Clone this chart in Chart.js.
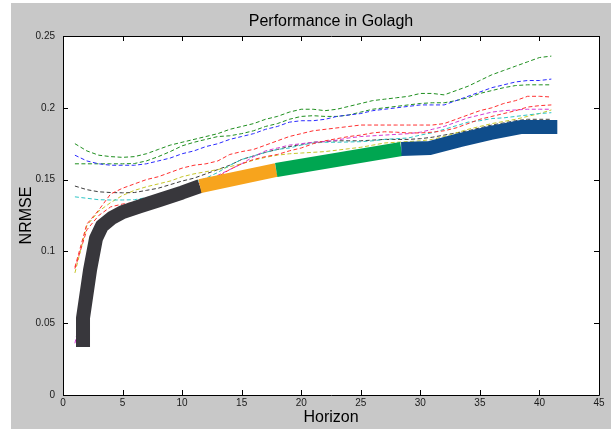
<!DOCTYPE html>
<html>
<head>
<meta charset="utf-8">
<script src="https://cdn.jsdelivr.net/npm/chart.js@4.4.1/dist/chart.umd.min.js"></script>
<style>
    html, body { margin: 0; padding: 0; background: #fff; }
    canvas { display: block; }
</style>
</head>
<body>
<canvas id="perfChart" width="611" height="430"></canvas>
<script>
// Horizon steps for the individual models
const horizons = [1, 2, 3, 4, 5, 6, 7, 8, 9, 10, 11, 12, 13, 14, 15, 16, 17, 18, 19, 20,
    21, 22, 23, 24, 25, 26, 27, 28, 29, 30, 31, 32, 33, 34, 35, 36, 37, 38, 39, 40, 41];

// NRMSE per model (dashed lines)
const greenA = [0.175, 0.170, 0.167, 0.166, 0.1655, 0.166, 0.168, 0.171, 0.174, 0.176, 0.178, 0.180, 0.182, 0.185, 0.187, 0.189, 0.192, 0.194, 0.197, 0.199,
    0.199, 0.198, 0.199, 0.201, 0.203, 0.205, 0.206, 0.207, 0.208, 0.210, 0.210, 0.209, 0.212, 0.215, 0.219, 0.223, 0.226, 0.229, 0.232, 0.235, 0.236];
const blueA = [0.167, 0.163, 0.161, 0.160, 0.160, 0.160, 0.161, 0.163, 0.165, 0.168, 0.170, 0.173, 0.175, 0.178, 0.180, 0.182, 0.185, 0.187, 0.190, 0.191,
    0.191, 0.192, 0.194, 0.195, 0.196, 0.198, 0.199, 0.200, 0.201, 0.202, 0.202, 0.202, 0.205, 0.208, 0.211, 0.214, 0.216, 0.218, 0.219, 0.219, 0.220];
const greenB = [0.161, 0.161, 0.161, 0.161, 0.161, 0.1612, 0.163, 0.166, 0.1695, 0.1735, 0.176, 0.178, 0.180, 0.1805, 0.182, 0.184, 0.187, 0.189, 0.192, 0.194,
    0.1945, 0.194, 0.194, 0.195, 0.197, 0.199, 0.200, 0.201, 0.202, 0.203, 0.2035, 0.2035, 0.205, 0.207, 0.210, 0.212, 0.214, 0.2155, 0.216, 0.216, 0.216];
const redA = [0.089, 0.119, 0.1288, 0.140, 0.144, 0.147, 0.150, 0.152, 0.155, 0.158, 0.160, 0.161, 0.163, 0.1675, 0.1695, 0.171, 0.174, 0.177, 0.180, 0.182,
    0.184, 0.185, 0.186, 0.187, 0.188, 0.188, 0.188, 0.188, 0.188, 0.188, 0.188, 0.189, 0.192, 0.195, 0.198, 0.200, 0.203, 0.205, 0.208, 0.208, 0.2075];
const redB = [0.088, 0.115, 0.125, 0.131, 0.133, 0.134, 0.136, 0.138, 0.140, 0.1425, 0.146, 0.149, 0.152, 0.157, 0.161, 0.164, 0.166, 0.1675, 0.170, 0.172,
    0.175, 0.177, 0.1785, 0.180, 0.181, 0.1825, 0.1833, 0.183, 0.1825, 0.1825, 0.183, 0.184, 0.186, 0.189, 0.192, 0.194, 0.196, 0.198, 0.2005, 0.2015, 0.202];
const magentaA = [0.036, 0.075, 0.115, 0.122, 0.126, 0.130, 0.133, 0.136, 0.139, 0.1425, 0.1455, 0.149, 0.153, 0.157, 0.161, 0.166, 0.170, 0.172, 0.174, 0.175,
    0.176, 0.1765, 0.1775, 0.179, 0.180, 0.1805, 0.181, 0.1815, 0.182, 0.183, 0.185, 0.187, 0.190, 0.193, 0.195, 0.197, 0.198, 0.1985, 0.199, 0.199, 0.199];
const cyanA = [0.138, 0.137, 0.136, 0.1358, 0.1358, 0.136, 0.1375, 0.139, 0.141, 0.1445, 0.148, 0.151, 0.155, 0.160, 0.164, 0.1665, 0.169, 0.171, 0.172, 0.174,
    0.1755, 0.176, 0.176, 0.1762, 0.1764, 0.177, 0.178, 0.1785, 0.179, 0.181, 0.1826, 0.185, 0.1875, 0.190, 0.191, 0.1925, 0.193, 0.194, 0.195, 0.196, 0.1966];
const yellowA = [0.085, 0.118, 0.128, 0.134, 0.139, 0.1425, 0.145, 0.147, 0.149, 0.152, 0.154, 0.1555, 0.157, 0.159, 0.161, 0.1635, 0.1655, 0.167, 0.168, 0.1685,
    0.169, 0.1695, 0.1705, 0.1715, 0.1725, 0.174, 0.1755, 0.176, 0.1765, 0.177, 0.178, 0.180, 0.1825, 0.185, 0.187, 0.189, 0.1905, 0.192, 0.194, 0.196, 0.1985];
const blackA = [0.1455, 0.143, 0.1415, 0.141, 0.1408, 0.141, 0.1425, 0.144, 0.1465, 0.149, 0.151, 0.154, 0.157, 0.160, 0.164, 0.1665, 0.169, 0.171, 0.173, 0.1745,
    0.176, 0.1765, 0.177, 0.177, 0.177, 0.1775, 0.178, 0.178, 0.178, 0.1785, 0.1795, 0.181, 0.1825, 0.184, 0.186, 0.188, 0.1895, 0.191, 0.192, 0.192, 0.192];

// Best-of envelope (thick line)
const bestX = [1.68, 1.68, 2.27, 2.77, 3.27, 4.1, 5, 6.5, 8.1, 10, 11.5, 17.9, 28.4, 30.8, 33.3, 35.9, 38.4, 41.5];
const bestY = [0.0334, 0.0536, 0.087, 0.109, 0.1177, 0.1233, 0.1274, 0.1316, 0.1358, 0.141, 0.1455, 0.1567, 0.1713, 0.172, 0.1775, 0.1825, 0.1866, 0.1866];
const bestBreaks = [11.5, 17.9, 28.4];
const bestColors = ['#38373c', '#f7a41d', '#00a651', '#0f4d8b'];

const xTicks = [0, 5, 10, 15, 20, 25, 30, 35, 40, 45];
const yTicks = [0, 0.05, 0.1, 0.15, 0.2, 0.25];

const FONT = "'Liberation Sans', Arial, Helvetica, sans-serif";

function toPoints(xs, ys) {
    return xs.map((x, i) => ({ x: x, y: ys[i] }));
}

function modelLine(values, color) {
    return {
        data: toPoints(horizons, values),
        borderColor: color,
        borderWidth: 1,
        borderDash: [4, 2.5],
        pointRadius: 0,
        order: 2
    };
}

function bestColor(x) {
    let i = 0;
    while (i < bestBreaks.length && x >= bestBreaks[i]) i++;
    return bestColors[i];
}

// gray figure background, white axes, box with inward ticks
const matlabFrame = {
    id: 'matlabFrame',
    beforeDraw(chart) {
        const { ctx, chartArea: a } = chart;
        ctx.save();
        ctx.fillStyle = '#ffffff';
        ctx.fillRect(0, 0, chart.width, chart.height);
        ctx.fillStyle = '#c8c8c8';
        ctx.fillRect(11, 3, chart.width - 11, chart.height - 4);
        ctx.fillStyle = '#ffffff';
        ctx.fillRect(a.left, a.top, a.right - a.left, a.bottom - a.top);
        ctx.restore();
    },
    afterDatasetsDraw(chart) {
        const { ctx, chartArea: a, scales } = chart;
        ctx.save();
        ctx.strokeStyle = '#000000';
        ctx.lineWidth = 1;
        ctx.beginPath();
        scales.x.ticks.forEach(t => {
            const px = Math.round(scales.x.getPixelForValue(t.value)) + 0.5;
            ctx.moveTo(px, a.bottom);
            ctx.lineTo(px, a.bottom - 5);
            ctx.moveTo(px, a.top);
            ctx.lineTo(px, a.top + 5);
        });
        scales.y.ticks.forEach(t => {
            const py = Math.round(scales.y.getPixelForValue(t.value)) + 0.5;
            ctx.moveTo(a.left, py);
            ctx.lineTo(a.left + 5, py);
            ctx.moveTo(a.right, py);
            ctx.lineTo(a.right - 5, py);
        });
        ctx.rect(Math.round(a.left) + 0.5, Math.round(a.top) + 0.5,
            Math.round(a.right - a.left), Math.round(a.bottom - a.top));
        ctx.stroke();
        ctx.restore();
    }
};

const ctx = document.getElementById('perfChart').getContext('2d');
new Chart(ctx, {
    type: 'line',
    data: {
        datasets: [
            {
                data: toPoints(bestX, bestY),
                borderWidth: 14,
                borderColor: bestColors[0],
                borderJoinStyle: 'round',
                pointRadius: 0,
                segment: {
                    borderColor: c => bestColor(c.p0.parsed.x)
                },
                order: 1
            },
            modelLine(greenA, '#1f8f1f'),
            modelLine(blueA, '#2b2bff'),
            modelLine(greenB, '#1f8f1f'),
            modelLine(redA, '#ff3030'),
            modelLine(redB, '#ff3030'),
            modelLine(magentaA, '#d43cd4'),
            modelLine(cyanA, '#2ec6c6'),
            modelLine(yellowA, '#c6c62a'),
            modelLine(blackA, '#3c3c3c')
        ]
    },
    options: {
        responsive: false,
        animation: false,
        devicePixelRatio: 1,
        layout: {
            padding: { left: 11, top: 3, right: 12, bottom: 0 }
        },
        plugins: {
            legend: { display: false },
            tooltip: { enabled: false },
            title: {
                display: true,
                text: 'Performance in Golagh',
                fullSize: false,
                color: '#000000',
                font: { family: FONT, size: 16, weight: 'normal' },
                padding: { top: 9, bottom: 4.8 }
            }
        },
        scales: {
            x: {
                type: 'linear',
                min: 0,
                max: 45,
                afterBuildTicks: s => { s.ticks = xTicks.map(v => ({ value: v })); },
                afterFit: s => { s.height = 35; },
                grid: { display: false, drawTicks: false },
                border: { display: false },
                ticks: {
                    color: '#1a1a1a',
                    padding: 2,
                    maxRotation: 0,
                    font: { family: FONT, size: 10 },
                    callback: v => String(v)
                },
                title: {
                    display: true,
                    text: 'Horizon',
                    color: '#000000',
                    font: { family: FONT, size: 16 },
                    padding: { top: 0, bottom: 2.4 }
                }
            },
            y: {
                min: 0,
                max: 0.25,
                afterBuildTicks: s => { s.ticks = yTicks.map(v => ({ value: v })); },
                afterFit: s => { s.width = 52; },
                grid: { display: false, drawTicks: false },
                border: { display: false },
                ticks: {
                    color: '#1a1a1a',
                    padding: 8,
                    font: { family: FONT, size: 10 },
                    callback: v => String(+v.toFixed(2))
                },
                title: {
                    display: true,
                    text: 'NRMSE',
                    color: '#000000',
                    font: { family: FONT, size: 16 },
                    padding: { top: 6, bottom: 0 }
                }
            }
        }
    },
    plugins: [matlabFrame]
});
</script>
</body>
</html>
